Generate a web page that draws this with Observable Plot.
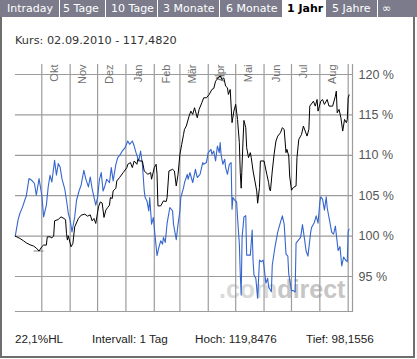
<!DOCTYPE html>
<html><head><meta charset="utf-8">
<script src="https://cdn.jsdelivr.net/npm/d3@7"></script>
<script src="https://cdn.jsdelivr.net/npm/@observablehq/plot@0.6"></script>
<style>
body{margin:0;background:#fff;}
#wrap{position:relative;width:417px;height:359px;overflow:hidden;background:#fff;}
#tabs{position:absolute;left:0;top:0;width:417px;height:17px;background:#7b7b8b;}
.tab{position:absolute;top:0;height:17px;line-height:17px;font-family:"DejaVu Sans";font-size:11px;color:#fff;white-space:nowrap;}
.tab.on{color:#000;font-weight:bold;}
.sep{position:absolute;top:0;width:1px;height:17px;background:#fff;}
#active{position:absolute;top:0;left:283px;width:42px;height:17px;background:#fff;}
#box{position:absolute;left:0;top:17px;width:411px;height:339px;border:2px solid #6e6e6e;border-top:none;}
#kurs{position:absolute;left:15px;top:34px;font-family:"DejaVu Sans";font-size:11.3px;line-height:14px;color:#333;white-space:nowrap;}
#wm{position:absolute;left:219px;top:277px;font-family:"Liberation Sans";font-weight:bold;font-size:25px;line-height:25px;white-space:nowrap;}
#chart{position:absolute;left:0;top:54px;}
.foot{position:absolute;top:332px;font-family:"Liberation Sans";font-size:11.7px;line-height:14px;color:#222;white-space:nowrap;}
</style>
</head><body>
<div id="wrap">
  <div id="tabs"></div>
  <div id="box"></div>
  <div id="kurs"></div>
  <div id="wm"><span style="color:#dadada">.com</span><span style="color:#c6c6c6">direct</span></div>
  <div id="chart"></div>
  <div id="foot"></div>
</div>
<script>
// ---- data ----
const tabLabels = ["Intraday","5 Tage","10 Tage","3 Monate","6 Monate","1 Jahr","5 Jahre","∞"];
const activeTab = "1 Jahr";
const headerText = "Kurs: 02.09.2010 - 117,4820";
const footerTexts = ["22,1%HL","Intervall: 1 Tag","Hoch: 119,8476","Tief: 98,1556"];
const monthTicks = ["2009-10-01","2009-11-01","2009-12-01","2010-01-01","2010-02-01","2010-03-01","2010-04-01","2010-05-01","2010-06-01","2010-07-01","2010-08-01","2010-09-01"];
const monthLabels = ["Okt","Nov","Dez","Jan","Feb","Mär","Apr","Mai","Jun","Jul","Aug"];
const yTicks = [95,100,105,110,115,120];

// Kurs (black), % of start value
const kurs = [
["2009-09-02",100.0],["2009-09-07",99.72],["2009-09-11",99.42],["2009-09-14",99.17],["2009-09-18",98.93],
["2009-09-22",98.77],["2009-09-25",98.52],["2009-09-28",98.1556],["2009-10-01",98.68],["2009-10-03",98.89],
["2009-10-06",98.89],["2009-10-07",99.91],["2009-10-10",99.91],["2009-10-12",99.79],["2009-10-14",100.0],
["2009-10-15",101.89],["2009-10-19",102.06],["2009-10-22",102.38],["2009-10-26",102.14],["2009-10-27",101.98],
["2009-10-28",100.33],["2009-10-29",99.51],["2009-10-30",100.04],["2009-11-02",98.68],["2009-11-04",99.1],
["2009-11-06",101.15],["2009-11-10",102.18],["2009-11-13",102.59],["2009-11-17",102.72],["2009-11-20",102.47],
["2009-11-23",102.63],["2009-11-25",101.89],["2009-11-27",102.18],["2009-11-29",101.57],["2009-12-02",103.62],
["2009-12-04",104.23],["2009-12-06",104.1],["2009-12-08",102.31],["2009-12-10",103.21],["2009-12-12",103.54],
["2009-12-14",103.83],["2009-12-15",104.78],["2009-12-17",104.65],["2009-12-18",105.59],["2009-12-21",105.93],
["2009-12-22",106.83],["2009-12-25",107.25],["2009-12-29",107.86],["2010-01-02",108.48],["2010-01-03",108.89],
["2010-01-06",109.1],["2010-01-08",108.48],["2010-01-10",109.3],["2010-01-13",108.89],["2010-01-14",109.51],
["2010-01-16",109.3],["2010-01-19",109.3],["2010-01-21",108.06],["2010-01-25",107.65],["2010-01-28",107.86],
["2010-01-29",107.04],["2010-02-01",108.48],["2010-02-03",108.89],["2010-02-04",107.65],["2010-02-05",103.74],
["2010-02-08",103.74],["2010-02-11",104.36],["2010-02-14",104.28],["2010-02-15",104.78],["2010-02-17",108.06],
["2010-02-21",108.27],["2010-02-23",108.06],["2010-02-25",106.21],["2010-02-27",107.65],["2010-03-01",110.12],
["2010-03-03",111.36],["2010-03-05",112.59],["2010-03-06",113.21],["2010-03-08",113.62],["2010-03-11",114.85],
["2010-03-13",115.47],["2010-03-15",115.06],["2010-03-17",115.89],["2010-03-18",115.47],["2010-03-20",114.65],
["2010-03-22",115.68],["2010-03-25",116.51],["2010-03-27",117.12],["2010-03-30",117.12],["2010-04-02",117.53],
["2010-04-05",118.15],["2010-04-07",118.27],["2010-04-09",119.17],["2010-04-12",119.59],["2010-04-14",119.8476],
["2010-04-16",119.38],["2010-04-18",119.59],["2010-04-20",118.56],["2010-04-22",118.36],["2010-04-23",117.53],
["2010-04-25",118.15],["2010-04-27",114.04],["2010-04-29",115.47],["2010-05-01",116.3],["2010-05-03",114.44],
["2010-05-05",111.57],["2010-05-06",107.86],["2010-05-07",105.93],["2010-05-09",111.77],["2010-05-10",114.32],
["2010-05-12",113.42],["2010-05-13",110.95],["2010-05-15",109.72],["2010-05-17",110.33],["2010-05-18",109.72],
["2010-05-20",108.06],["2010-05-22",106.83],["2010-05-24",105.59],["2010-05-25",104.07],["2010-05-27",106.01],
["2010-05-28",109.3],["2010-06-01",109.3],["2010-06-04",107.65],["2010-06-06",106.63],["2010-06-07",105.8],
["2010-06-08",105.59],["2010-06-10",108.06],["2010-06-12",110.12],["2010-06-14",111.77],["2010-06-16",112.38],
["2010-06-19",112.8],["2010-06-21",113.42],["2010-06-23",113.21],["2010-06-25",110.33],["2010-06-26",110.74],
["2010-06-28",109.91],["2010-06-29",107.44],["2010-07-01",105.68],["2010-07-03",106.01],["2010-07-06",106.21],
["2010-07-07",109.72],["2010-07-09",111.98],["2010-07-11",112.38],["2010-07-12",112.59],["2010-07-14",113.62],
["2010-07-16",113.0],["2010-07-18",112.38],["2010-07-20",113.21],["2010-07-21",116.09],["2010-07-25",116.7],
["2010-07-27",116.09],["2010-07-29",116.91],["2010-07-30",115.47],["2010-08-02",116.7],["2010-08-04",116.91],
["2010-08-06",116.3],["2010-08-09",116.91],["2010-08-11",116.09],["2010-08-15",116.09],["2010-08-18",117.32],
["2010-08-19",117.94],["2010-08-20",115.27],["2010-08-22",115.68],["2010-08-24",114.65],["2010-08-26",113.0],
["2010-08-28",114.44],["2010-08-30",114.04],["2010-08-31",114.44],["2010-09-01",117.1],["2010-09-02",117.482]
];

// Vergleichsindex (blue), % of start value
const index = [
["2009-09-02",100.0],["2009-09-05",101.98],["2009-09-07",102.8],["2009-09-10",103.62],["2009-09-13",104.65],
["2009-09-14",104.94],["2009-09-17",107.12],["2009-09-20",106.91],["2009-09-23",106.51],["2009-09-25",105.06],
["2009-09-28",107.12],["2009-10-01",105.06],["2009-10-03",102.38],["2009-10-06",103.83],["2009-10-08",106.09],
["2009-10-10",107.53],["2009-10-12",106.7],["2009-10-15",109.38],["2009-10-17",107.53],["2009-10-19",108.97],
["2009-10-21",108.56],["2009-10-23",107.12],["2009-10-26",105.89],["2009-10-28",104.44],["2009-10-30",102.8],
["2009-11-01",101.98],["2009-11-03",100.53],["2009-11-06",102.38],["2009-11-08",104.44],["2009-11-11",105.68],
["2009-11-13",106.3],["2009-11-16",108.15],["2009-11-18",107.12],["2009-11-21",106.09],["2009-11-23",107.32],
["2009-11-25",105.89],["2009-11-27",104.85],["2009-11-29",103.83],["2009-12-01",104.8],["2009-12-03",107.0],
["2009-12-05",107.86],["2009-12-07",105.59],["2009-12-09",106.21],["2009-12-11",107.04],["2009-12-14",106.63],
["2009-12-16",108.48],["2009-12-18",106.83],["2009-12-21",108.89],["2009-12-23",109.72],["2009-12-26",110.12],
["2009-12-28",110.53],["2009-12-31",110.95],["2010-01-03",111.77],["2010-01-05",111.36],["2010-01-08",111.77],
["2010-01-10",111.15],["2010-01-12",110.33],["2010-01-15",109.3],["2010-01-17",110.53],["2010-01-19",108.89],
["2010-01-21",105.59],["2010-01-22",104.78],["2010-01-24",104.36],["2010-01-26",103.12],["2010-01-27",104.78],
["2010-01-29",101.48],["2010-01-31",102.31],["2010-02-02",99.84],["2010-02-04",97.59],["2010-02-06",98.6],
["2010-02-08",99.42],["2010-02-10",99.01],["2010-02-11",99.84],["2010-02-13",99.22],["2010-02-15",101.57],
["2010-02-18",103.54],["2010-02-21",103.12],["2010-02-22",101.48],["2010-02-25",99.57],["2010-02-27",101.48],
["2010-03-01",103.12],["2010-03-02",104.78],["2010-03-05",106.01],["2010-03-06",106.6],["2010-03-09",107.65],
["2010-03-10",107.04],["2010-03-12",107.86],["2010-03-14",107.04],["2010-03-15",106.63],["2010-03-18",108.27],
["2010-03-20",107.25],["2010-03-23",107.65],["2010-03-26",109.1],["2010-03-27",108.89],["2010-03-30",109.1],
["2010-04-01",110.33],["2010-04-04",110.74],["2010-04-05",110.12],["2010-04-07",110.53],["2010-04-09",109.3],
["2010-04-11",111.15],["2010-04-13",110.33],["2010-04-14",111.57],["2010-04-15",110.12],["2010-04-17",108.89],
["2010-04-19",109.51],["2010-04-20",108.48],["2010-04-22",107.65],["2010-04-24",108.89],["2010-04-26",109.1],
["2010-04-27",103.33],["2010-04-28",104.78],["2010-04-30",104.44],["2010-05-02",104.23],["2010-05-03",102.31],
["2010-05-05",99.01],["2010-05-06",95.31],["2010-05-07",92.72],["2010-05-08",99.84],["2010-05-10",102.38],
["2010-05-12",102.53],["2010-05-13",97.65],["2010-05-15",97.65],["2010-05-17",97.65],["2010-05-19",100.74],
["2010-05-20",96.95],["2010-05-21",95.19],["2010-05-23",94.78],["2010-05-25",92.31],["2010-05-27",97.04],
["2010-05-29",96.83],["2010-05-31",97.04],["2010-06-01",96.21],["2010-06-03",94.16],["2010-06-05",94.78],
["2010-06-06",93.7],["2010-06-09",93.12],["2010-06-10",96.42],["2010-06-13",98.68],["2010-06-16",100.53],
["2010-06-19",101.73],["2010-06-21",102.51],["2010-06-23",101.48],["2010-06-25",97.78],["2010-06-27",97.53],
["2010-06-28",95.31],["2010-07-01",93.25],["2010-07-03",93.25],["2010-07-05",93.09],["2010-07-06",99.14],
["2010-07-09",99.57],["2010-07-11",99.84],["2010-07-13",101.42],["2010-07-15",99.84],["2010-07-17",98.15],
["2010-07-19",97.53],["2010-07-22",100.49],["2010-07-23",101.07],["2010-07-26",101.69],["2010-07-28",102.51],
["2010-07-30",101.6],["2010-08-01",104.2],["2010-08-02",104.85],["2010-08-04",104.57],["2010-08-06",103.21],
["2010-08-08",104.85],["2010-08-09",103.54],["2010-08-12",101.69],["2010-08-14",100.46],["2010-08-16",100.25],
["2010-08-18",101.23],["2010-08-21",98.21],["2010-08-23",98.7],["2010-08-25",96.3],["2010-08-27",97.41],
["2010-08-29",97.04],["2010-08-31",96.85],["2010-09-01",100.56],["2010-09-02",100.86]
];

// ---- page chrome ----
const tabX = [7,63,111,163,226,287,332,382];
const sepX = [59,105,157,219,282,325,377];
const tabs = document.getElementById("tabs");
tabs.insertAdjacentHTML("beforeend", `<div id="active"></div>`);
sepX.forEach(x => tabs.insertAdjacentHTML("beforeend", `<div class="sep" style="left:${x}px"></div>`));
tabLabels.forEach((t, i) => tabs.insertAdjacentHTML("beforeend",
  `<div class="tab${t === activeTab ? " on" : ""}" style="left:${tabX[i]}px">${t}</div>`));
document.getElementById("kurs").textContent = headerText;
const footX = [15,92,195,306];
const foot = document.getElementById("foot");
footerTexts.forEach((t, i) => foot.insertAdjacentHTML("beforeend", `<div class="foot" style="left:${footX[i]}px">${t}</div>`));

// ---- chart ----
const parse = d => new Date(d + "T00:00:00Z");
const kursData = kurs.map(([d, v]) => ({date: parse(d), value: v}));
const indexData = index.map(([d, v]) => ({date: parse(d), value: v}));
const months = monthTicks.map(parse);
const monthLabelData = monthLabels.map((t, i) => ({date: months[i], label: t}));
const lo = kursData.reduce((a, b) => b.value < a.value ? b : a);
const hi = kursData.reduce((a, b) => b.value > a.value ? b : a);
const DAY = 864e5;
const markers = [lo, hi].map(d => ({x1: new Date(+d.date - 5.5 * DAY), x2: new Date(+d.date + 5.5 * DAY), y: d.value}));
const gridColor = "#9c9c9c";

const chart = Plot.plot({
  width: 413, height: 262,
  marginTop: 10, marginBottom: 5, marginLeft: 15, marginRight: 61,
  style: {background: "transparent", fontFamily: "Liberation Sans", color: "#555", overflow: "visible"},
  x: {type: "utc", domain: [new Date("2009-09-02T06:00:00Z"), new Date("2010-09-05T17:00:00Z")], axis: null},
  y: {domain: [90.67, 121.24], axis: null},
  marks: [
    Plot.ruleX(months, {stroke: gridColor, strokeWidth: 1.2}),
    Plot.ruleY(yTicks, {stroke: gridColor, strokeWidth: 1.2}),
    Plot.frame({anchor: "bottom", stroke: gridColor, strokeWidth: 1.2}),
    Plot.frame({anchor: "right", stroke: gridColor, strokeWidth: 1.2}),
    Plot.text(monthLabelData, {x: "date", text: "label", frameAnchor: "top", rotate: -90, textAnchor: "end",
      dx: 8, dy: 0, fontSize: 11, fill: "#707070", fontFamily: "Liberation Sans"}),
    Plot.text(yTicks, {y: d => d, text: d => d + " %", frameAnchor: "right", textAnchor: "start",
      dx: 6, fontSize: 12.5, fill: "#555", fontFamily: "Liberation Sans"}),
    Plot.line(indexData, {x: "date", y: "value", stroke: "#3566cf", strokeWidth: 1.1}),
    Plot.ruleY(markers, {x1: "x1", x2: "x2", y: "y", stroke: "#808080", strokeWidth: 1}),
    Plot.line(kursData, {x: "date", y: "value", stroke: "#000", strokeWidth: 1})
  ]
});
document.getElementById("chart").appendChild(chart);
</script>
</body></html>
